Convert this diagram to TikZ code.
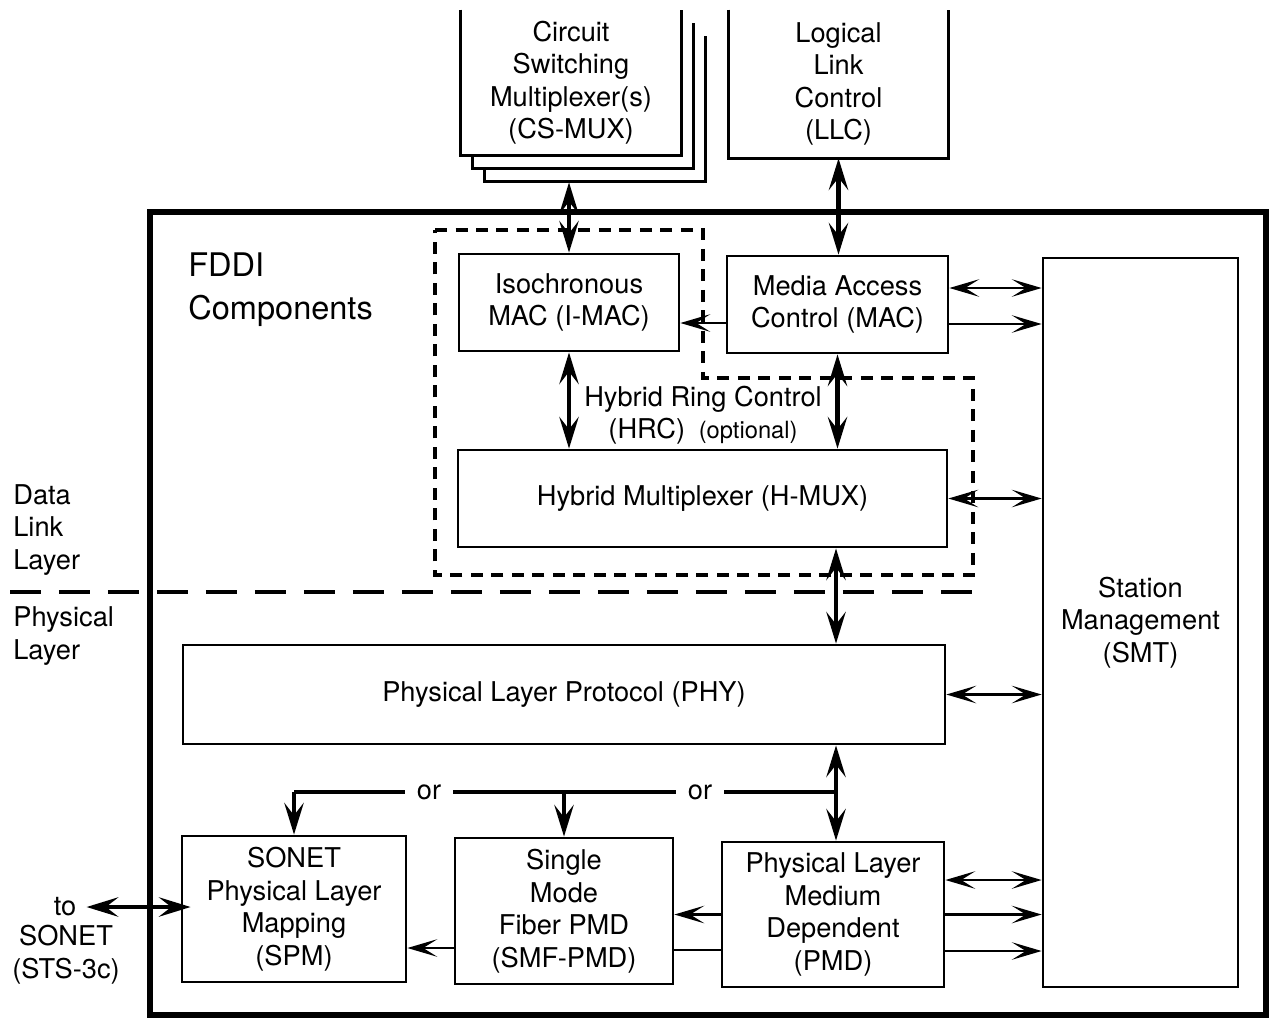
\documentclass[tikz,border=0pt]{standalone}
\usepackage{fontspec}
\setmainfont{TeX Gyre Heros}
\usetikzlibrary{arrows.meta, positioning, calc, backgrounds}
\newcommand{\blockfont}{\fontsize{15.5}{18.5}\selectfont}
\newcommand{\headfont}{\fontsize{18.5}{24.5}\selectfont}
\newcommand{\notefont}{\fontsize{13.5}{16}\selectfont}

\begin{document}
\begin{tikzpicture}[x=0.02cm, y=-0.02cm,
    box/.style={draw, line width=1.6pt, inner sep=0pt, align=center, font=\blockfont},
    stackbox/.style={inner sep=0pt, align=center, font=\blockfont},
    lbl/.style={inner sep=0pt, align=left, font=\blockfont},
    dbl/.style={{Stealth[length=18pt, width=11pt, inset=7pt]}-{Stealth[length=18pt, width=11pt, inset=7pt]}, line width=2.6pt},
    arr/.style={-{Stealth[length=18pt, width=11pt, inset=7pt]}, line width=2.6pt},
    tdbl/.style={{Stealth[length=17pt, width=10pt, inset=8pt]}-{Stealth[length=17pt, width=10pt, inset=8pt]}, line width=1.4pt},
    tarr/.style={-{Stealth[length=17pt, width=10pt, inset=8pt]}, line width=1.4pt},
    hrcline/.style={line width=1.8pt, dash pattern=on 0.24cm off 0.17cm},
    layerline/.style={line width=2pt, dash pattern=on 0.62cm off 0.36cm}
  ]
    \useasboundingbox (0,0) rectangle (1270,1025);

    %% Upper layer users
    \node[stackbox, minimum width=4.4cm, minimum height=2.9cm] (csmux) at (571,82.5)
      {Circuit\\Switching\\Multiplexer(s)\\(CS-MUX)};
    \node[stackbox, minimum width=4.38cm, minimum height=2.96cm] (llc) at (838.5,84)
      {Logical\\Link\\Control\\(LLC)};

    %% FDDI frame
    \draw[line width=2.9pt] (150,212) rectangle (1266,1015);
    \node[lbl, font=\headfont, anchor=west] (fddi) at (188,290) {FDDI\\Components};

    %% MAC level
    \node[box, minimum width=4.4cm, minimum height=1.94cm] (imac) at (569,302.5) {Isochronous\\MAC (I-MAC)};
    \node[box, minimum width=4.42cm, minimum height=1.94cm] (mac) at (837.5,304.5) {Media Access\\Control (MAC)};
    \node[box, minimum width=9.78cm, minimum height=1.94cm] (hmux) at (702.5,498.5) {Hybrid Multiplexer (H-MUX)};
    \node[lbl, align=center] (hrc) at (703,415) {Hybrid Ring Control\\(HRC)\enspace{\notefont(optional)}};
    \node[box, minimum width=3.9cm, minimum height=14.58cm] (smt) at (1140.5,622.5) {Station\\Management\\(SMT)};

    %% HRC boundary
    \draw[hrcline] (435,230) -- (703,230) -- (703,378) -- (973,378) -- (973,575) -- (435,575) -- cycle;

    %% Layer split
    \node[lbl, anchor=west] (dll) at (13,530) {Data\\Link\\Layer};
    \node[lbl, anchor=west] (phl) at (13,636) {Physical\\Layer};
    \draw[layerline] (10,592) -- (976,592);

    %% Physical level
    \node[box, minimum width=15.24cm, minimum height=1.98cm] (phy) at (564,694.5) {Physical Layer Protocol (PHY)};
    \node[box, minimum width=4.48cm, minimum height=2.92cm] (spm) at (294,909) {SONET\\Physical Layer\\Mapping\\(SPM)};
    \node[box, minimum width=4.36cm, minimum height=2.92cm] (smf) at (564,911) {Single\\Mode\\Fiber PMD\\(SMF-PMD)};
    \node[box, minimum width=4.44cm, minimum height=2.9cm] (pmd) at (833,914.5) {Physical Layer\\Medium\\Dependent\\(PMD)};
    \node[lbl, align=center] (to) at (65,907) {to};
    \node[lbl, align=center] (sonet) at (66,954.5) {SONET\\(STS-3c)};

    %% Open boxes on top
    \begin{pgfonlayer}{background}
      \fill[white] (0,0) rectangle (1270,1025);
      \foreach \s in {2,1,0}{
        \fill[white] ([shift={(12*\s,13*\s)}]csmux.north west) rectangle ([shift={(12*\s,13*\s)}]csmux.south east);
        \draw[line width=1.6pt] ([shift={(12*\s,13*\s)}]csmux.north west) -- ([shift={(12*\s,13*\s)}]csmux.south west)
          -- ([shift={(12*\s,13*\s)}]csmux.south east) -- ([shift={(12*\s,13*\s)}]csmux.north east);
      }
      \draw[line width=1.6pt] (llc.north west) -- (llc.south west) -- (llc.south east) -- (llc.north east);
    \end{pgfonlayer}

    %% Arrows
    \coordinate (csbot) at ([yshift=-0.54cm]csmux.south);
    \coordinate (orjoin) at (836,792);
    \draw[dbl] (imac.north |- csbot) -- (imac.north);
    \draw[dbl] (llc.south) -- (llc.south |- mac.north);
    \draw[tarr] ([yshift=-0.37cm]mac.west) -- ([yshift=-0.37cm]mac.west -| imac.east);
    \draw[tdbl] ([yshift=0.33cm]mac.east) -- ([yshift=0.33cm]mac.east -| smt.west);
    \draw[tarr] ([yshift=-0.39cm]mac.east) -- ([yshift=-0.39cm]mac.east -| smt.west);
    \draw[dbl] (imac.south) -- (imac.south |- hmux.north);
    \draw[dbl] (mac.south) -- (mac.south |- hmux.north);
    \draw[tdbl] (hmux.east) -- (hmux.east -| smt.west);
    \draw[dbl] (hmux.south -| orjoin) -- (phy.north -| orjoin);
    \draw[tdbl] (phy.east) -- (phy.east -| smt.west);
    \draw[dbl] (phy.south -| orjoin) -- (pmd.north -| orjoin);
    \draw[line width=2.6pt] (orjoin)
      -- node[fill=white, inner xsep=7pt, font=\blockfont] (or1) {or} (orjoin -| smf.north)
      -- node[fill=white, inner xsep=7pt, font=\blockfont] (or2) {or} (orjoin -| spm.north);
    \draw[arr] (orjoin -| smf.north) -- (smf.north);
    \draw[arr] (orjoin -| spm.north) -- (spm.north);
    \draw[tarr] (pmd.west) -- (pmd.west -| smf.east);
    \draw[line width=1.4pt] ([yshift=-0.71cm]pmd.west) -- ([yshift=-0.71cm]pmd.west -| smf.east);
    \draw[tarr] ([yshift=-0.74cm]smf.west) -- ([yshift=-0.74cm]smf.west -| spm.east);
    \draw[tdbl] ([yshift=0.69cm]pmd.east) -- ([yshift=0.69cm]pmd.east -| smt.west);
    \draw[tarr] (pmd.east) -- (pmd.east -| smt.west);
    \draw[tarr] ([yshift=-0.73cm]pmd.east) -- ([yshift=-0.73cm]pmd.east -| smt.west);
    \draw[dbl] ([xshift=0.2cm]to.east) -- ([xshift=0.2cm]to.east -| spm.west);
  \end{tikzpicture}
\end{document}
